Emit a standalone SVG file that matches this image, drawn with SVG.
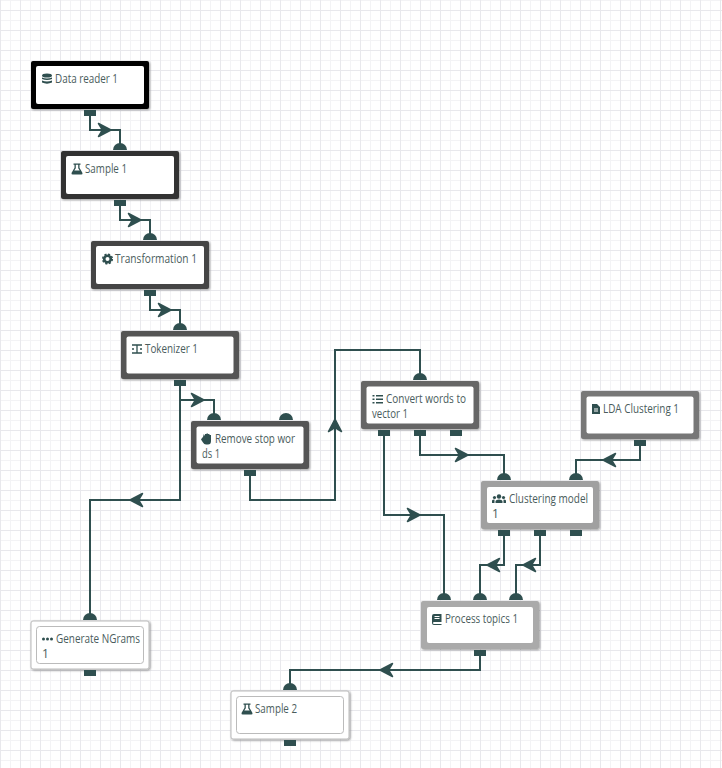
<svg xmlns="http://www.w3.org/2000/svg" width="722" height="768" viewBox="0 0 722 768">
<style>
.inner{fill:#fff}
.t{font-family:"Open Sans","Noto Sans","DejaVu Sans",sans-serif;font-size:12px;fill:#4a5c5c}
.c{fill:none;stroke:#2f4f4f;stroke-width:2}
.ic{fill:#2f4f4f}
</style>
<defs>
<pattern id="grid" width="20" height="20" patternUnits="userSpaceOnUse" y="10">
<path d="M10.500 0V20M0 10.500H20" stroke="#f3f3f5" stroke-width="1" fill="none"/>
<path d="M0.500 0V20M0 0.500H20" stroke="#e8e8ec" stroke-width="1" fill="none"/>
</pattern>
<filter id="sh" x="-10%" y="-10%" width="125%" height="130%"><feDropShadow dx="1" dy="1" stdDeviation="1" flood-color="#000" flood-opacity="0.4"/></filter>
<path id="ah" d="M-12.500 -6.500L0 0L-12.500 6.500L-8.500 0Z" fill="#2f4f4f" stroke="#2f4f4f" stroke-width="1.500" stroke-linejoin="round"/>
<path id="inp" d="M-7 0A7 7 0 0 1 7 0Z" fill="#2f4f4f"/>
<rect id="out" x="-6" y="0" width="12" height="6" fill="#2f4f4f"/>
<g id="flask"><path d="M-3.500 -5.500H3.500V-4.300H2.500V-1.300L5.500 4Q5.700 5.500 4.300 5.500H-4.300Q-5.700 5.500 -5.500 4L-2.500 -1.300V-4.300H-3.500ZM-1.200 -4.300V-.8L-2.700 1.500H2.700L1.200 -.8V-4.300Z" fill-rule="evenodd" class="ic"/></g>
</defs>
<rect width="722" height="768" fill="#fff"/>
<rect width="722" height="768" fill="url(#grid)"/>

<g id="connectors">
<path class="c" d="M90 116V130H120V144"/><use href="#ah" x="111" y="130"/>
<path class="c" d="M120 206V220H150V234"/><use href="#ah" x="141" y="220"/>
<path class="c" d="M150 296V310H180V324"/><use href="#ah" x="171" y="310"/>
<path class="c" d="M180 386V400H214V414"/><use href="#ah" x="204" y="400"/>
<path class="c" d="M180 386V500H90V614"/><use href="#ah" transform="translate(130 500) rotate(180)"/>
<path class="c" d="M250 476V500H335V350H420V374"/><use href="#ah" transform="translate(335 419) rotate(-90)"/>
<path class="c" d="M420 436V455H504V474"/><use href="#ah" x="468" y="455"/>
<path class="c" d="M384 436V515H444V594"/><use href="#ah" x="420" y="515"/>
<path class="c" d="M640 446V460H576V474"/><use href="#ah" transform="translate(603 460) rotate(180)"/>
<path class="c" d="M504 536V565H480V594"/><use href="#ah" transform="translate(487 565) rotate(180)"/>
<path class="c" d="M540 536V565H516V594"/><use href="#ah" transform="translate(523 565) rotate(180)"/>
<path class="c" d="M480 656V670H290V684"/><use href="#ah" transform="translate(380 670) rotate(180)"/>
</g>

<g id="n1"><rect x="31" y="61" width="118" height="48" rx="2" fill="#000" filter="url(#sh)"/><rect class="inner" x="36" y="66" width="108" height="38" rx="2"/><use href="#out" x="90" y="110"/>
<g class="ic" transform="translate(47 79)"><ellipse cx="0" cy="-3.500" rx="5" ry="2"/><path d="M-5 -1.500Q0 .5 5 -1.500V0Q0 2 -5 0ZM-5 1.500Q0 3.500 5 1.500V3.500Q0 5.800 -5 3.500Z"/></g>
<text class="t" x="55" y="83" textLength="63" lengthAdjust="spacingAndGlyphs">Data reader 1</text></g>

<g id="n2"><rect x="61" y="151" width="118" height="48" rx="2" fill="#333" filter="url(#sh)"/><rect class="inner" x="66" y="156" width="108" height="38" rx="2"/><use href="#inp" x="120" y="150"/><use href="#out" x="120" y="200"/>
<use href="#flask" x="77" y="169"/>
<text class="t" x="85" y="173" textLength="42" lengthAdjust="spacingAndGlyphs">Sample 1</text></g>

<g id="n3"><rect x="91" y="241" width="118" height="48" rx="2" fill="#444" filter="url(#sh)"/><rect class="inner" x="96" y="246" width="108" height="38" rx="2"/><use href="#inp" x="150" y="240"/><use href="#out" x="150" y="290"/>
<g transform="translate(107.500 259)"><circle r="3.300" fill="none" stroke="#2f4f4f" stroke-width="2.600"/><circle r="4.800" fill="none" stroke="#2f4f4f" stroke-width="1.500" stroke-dasharray="2.100 1.670"/></g>
<text class="t" x="115" y="263" textLength="82" lengthAdjust="spacingAndGlyphs">Transformation 1</text></g>

<g id="n4"><rect x="121" y="331" width="118" height="48" rx="2" fill="#555" filter="url(#sh)"/><rect class="inner" x="126.500" y="336.500" width="107" height="37" rx="2"/><use href="#inp" x="180" y="330"/><use href="#out" x="180" y="380"/>
<path class="c" style="stroke-width:1.300" d="M132 345H142M137 345V353M132 353H142M132 349H134M140 349H142"/>
<text class="t" x="145" y="353" textLength="53" lengthAdjust="spacingAndGlyphs">Tokenizer 1</text></g>

<g id="n5"><rect x="191" y="421" width="118" height="48" rx="2" fill="#555" filter="url(#sh)"/><rect class="inner" x="196.500" y="426.500" width="107" height="37" rx="2"/><use href="#inp" x="214" y="420"/><use href="#inp" x="286" y="420"/><use href="#out" x="250" y="470"/>
<path class="ic" d="M203 437L203.800 434L205 436V434H206.500V433.500H208V434H209.500V435H211V441Q211 444.500 208 444.500H206Q204 444.500 203 442.500L201 439.500L202 438Z"/>
<text class="t"><tspan x="215" y="443" textLength="80" lengthAdjust="spacingAndGlyphs">Remove stop wor</tspan><tspan x="202" y="458" textLength="18" lengthAdjust="spacingAndGlyphs">ds 1</tspan></text></g>

<g id="n6"><rect x="361" y="381" width="118" height="48" rx="2" fill="#666" filter="url(#sh)"/><rect class="inner" x="366.500" y="386.500" width="107" height="37" rx="2"/><use href="#inp" x="420" y="380"/><use href="#out" x="384" y="430"/><use href="#out" x="420" y="430"/><use href="#out" x="456" y="430"/>
<path class="ic" d="M376 395H383V396.500H376ZM376 398.500H383V400H376ZM376 402H383V403.500H376ZM372.500 395H374.500V396.500H372.500ZM372.500 398.500H374.500V400H372.500ZM372.500 402H374.500V403.500H372.500Z"/>
<text class="t"><tspan x="386" y="403" textLength="80" lengthAdjust="spacingAndGlyphs">Convert words to</tspan><tspan x="372" y="418" textLength="36" lengthAdjust="spacingAndGlyphs">vector 1</tspan></text></g>

<g id="n7"><rect x="581" y="391" width="118" height="48" rx="2" fill="#777" filter="url(#sh)"/><rect class="inner" x="586.500" y="396.500" width="107" height="37" rx="2"/><use href="#out" x="640" y="440"/>
<path class="ic" fill-rule="evenodd" d="M592 404H597L600 407V414H592ZM594 408.500V409.500H598V408.500ZM594 410.500V411.500H598V410.500Z"/>
<text class="t" x="603" y="413" textLength="76" lengthAdjust="spacingAndGlyphs">LDA Clustering 1</text></g>

<g id="n8"><rect x="481" y="481" width="118" height="48" rx="2" fill="#a0a0a0" filter="url(#sh)"/><rect class="inner" x="487" y="487" width="106" height="36" rx="2"/><use href="#inp" x="504" y="480"/><use href="#inp" x="576" y="480"/><use href="#out" x="504" y="530"/><use href="#out" x="540" y="530"/><use href="#out" x="576" y="530"/>
<g class="ic"><circle cx="499" cy="496.500" r="2.200"/><circle cx="494.500" cy="497.500" r="1.600"/><circle cx="503.500" cy="497.500" r="1.600"/><path d="M495.500 503V501Q496 499.500 499 499.500Q502 499.500 502.500 501V503ZM492 503V500.500Q492.500 499.500 494.500 499.500L494.500 503ZM503.500 503V499.500Q505.500 499.500 506 500.500V503Z"/></g>
<text class="t"><tspan x="509" y="503" textLength="79" lengthAdjust="spacingAndGlyphs">Clustering model</tspan><tspan x="492" y="518">1</tspan></text></g>

<g id="n9"><rect x="421" y="601" width="118" height="48" rx="2" fill="#aaa" filter="url(#sh)"/><rect class="inner" x="427" y="607" width="106" height="36" rx="2"/><use href="#inp" x="444" y="600"/><use href="#inp" x="480" y="600"/><use href="#inp" x="516" y="600"/><use href="#out" x="480" y="650"/>
<path class="ic" fill-rule="evenodd" d="M432 616Q432 614 434 614H441.500V622H434Q433 622 433 623Q433 624 434 624H441.500V625H434Q432 625 432 623ZM434.500 616V617H439.500V616ZM434.500 618V619H439.500V618Z"/>
<text class="t" x="445" y="623" textLength="73" lengthAdjust="spacingAndGlyphs">Process topics 1</text></g>

<g id="n10"><rect x="31" y="621" width="118" height="48" rx="2" fill="#fff" stroke="#bbb" filter="url(#sh)"/><rect class="inner" x="36.500" y="626.500" width="107" height="37" rx="3" stroke="#bbb"/><use href="#inp" x="90" y="620"/><use href="#out" x="90" y="670"/>
<g class="ic"><circle cx="43.500" cy="639" r="1.500"/><circle cx="47.500" cy="639" r="1.500"/><circle cx="51.500" cy="639" r="1.500"/></g>
<text class="t"><tspan x="56" y="643" textLength="84" lengthAdjust="spacingAndGlyphs">Generate NGrams</tspan><tspan x="42" y="658">1</tspan></text></g>

<g id="n11"><rect x="231" y="691" width="118" height="48" rx="2" fill="#fff" stroke="#bbb" filter="url(#sh)"/><rect class="inner" x="236.500" y="696.500" width="107" height="37" rx="3" stroke="#bbb"/><use href="#inp" x="290" y="690"/><use href="#out" x="290" y="740"/>
<use href="#flask" x="247" y="709"/>
<text class="t" x="255" y="713" textLength="42" lengthAdjust="spacingAndGlyphs">Sample 2</text></g>
</svg>
